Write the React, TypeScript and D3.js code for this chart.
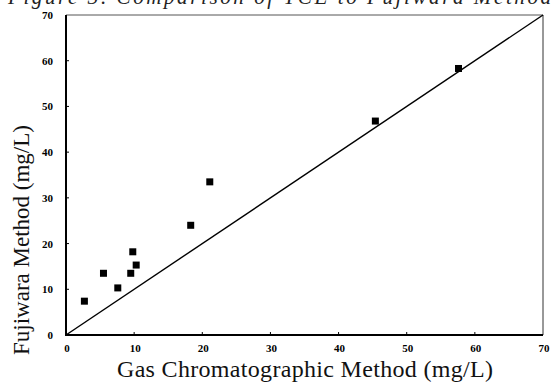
import React, { useEffect, useRef } from 'react';
import * as d3 from 'd3';

// Readings from the scanned figure (mg/L)
const gcValues = [2.7, 5.5, 7.6, 9.5, 9.8, 10.3, 18.3, 21.1, 45.4, 57.6];
const fujiwaraValues = [7.4, 13.5, 10.3, 13.5, 18.2, 15.3, 24.0, 33.5, 46.8, 58.3];
const tickValues = [0, 10, 20, 30, 40, 50, 60, 70];
const lineEnds = [0, 70];

const App: React.FC = () => {
  const svgRef = useRef<SVGSVGElement>(null);

  useEffect(() => {
    if (!svgRef.current) return;
    const svg = d3.select(svgRef.current);
    svg.selectAll('*').remove();

    const left = 66, right = 543, top = 15, bottom = 335;
    const x = d3.scaleLinear().domain([0, 70]).range([left, right]);
    const y = d3.scaleLinear().domain([0, 70]).range([bottom, top]);
    const serif = '"Liberation Serif", "DejaVu Serif", serif';

    // Caption, cut off at the top edge as in the scan
    svg.append('text')
      .attr('x', 8)
      .attr('y', 4)
      .attr('textLength', 543)
      .style('font-family', serif)
      .style('font-size', '21px')
      .style('font-style', 'italic')
      .style('fill', '#222')
      .text('Figure 3. Comparison of TCE to Fujiwara Method');

    // frame: top and right thin, left and bottom heavy
    svg.append('line')
      .attr('x1', left).attr('x2', right).attr('y1', top).attr('y2', top)
      .style('stroke', '#555').style('stroke-width', 1);
    svg.append('line')
      .attr('x1', right).attr('x2', right).attr('y1', top).attr('y2', bottom)
      .style('stroke', '#333').style('stroke-width', 1);
    svg.append('line')
      .attr('x1', left).attr('x2', left).attr('y1', top).attr('y2', bottom + 1)
      .style('stroke', '#000').style('stroke-width', 2);
    svg.append('line')
      .attr('x1', left - 1).attr('x2', right).attr('y1', bottom).attr('y2', bottom)
      .style('stroke', '#000').style('stroke-width', 2);

    // x ticks (inward) and labels
    svg.selectAll('.xtick')
      .data(tickValues.slice(1, -1))
      .enter()
      .append('line')
      .attr('x1', d => x(d)).attr('x2', d => x(d))
      .attr('y1', bottom).attr('y2', bottom - 3)
      .style('stroke', '#000').style('stroke-width', 1);
    svg.selectAll('.xlabel')
      .data(tickValues)
      .enter()
      .append('text')
      .attr('x', d => x(d) + 1)
      .attr('y', bottom + 17)
      .attr('text-anchor', 'middle')
      .style('font-family', serif)
      .style('font-size', '11px')
      .style('font-weight', 'bold')
      .text(d => d);

    // y ticks and labels
    svg.selectAll('.ytick')
      .data(tickValues.slice(1, -1))
      .enter()
      .append('line')
      .attr('x1', left).attr('x2', left + 3)
      .attr('y1', d => y(d)).attr('y2', d => y(d))
      .style('stroke', '#000').style('stroke-width', 1);
    svg.selectAll('.ylabel')
      .data(tickValues)
      .enter()
      .append('text')
      .attr('x', 53)
      .attr('y', d => y(d) + 4)
      .attr('text-anchor', 'end')
      .style('font-family', serif)
      .style('font-size', '11px')
      .style('font-weight', 'bold')
      .text(d => d);

    // 1:1 reference line
    svg.append('line')
      .attr('x1', x(lineEnds[0])).attr('y1', y(lineEnds[0]))
      .attr('x2', x(lineEnds[1])).attr('y2', y(lineEnds[1]))
      .style('stroke', '#000')
      .style('stroke-width', 1.4);

    // data markers
    const size = 7;
    svg.selectAll('.pt')
      .data(gcValues.map((g, i) => ({ g, f: fujiwaraValues[i] })))
      .enter()
      .append('rect')
      .attr('x', d => x(d.g) - size / 2)
      .attr('y', d => y(d.f) - size / 2)
      .attr('width', size)
      .attr('height', size)
      .style('fill', '#000');

    // axis titles
    svg.append('text')
      .attr('x', 305)
      .attr('y', 377)
      .attr('text-anchor', 'middle')
      .attr('textLength', 376)
      .style('font-family', serif)
      .style('font-size', '24px')
      .style('fill', '#111')
      .text('Gas Chromatographic Method (mg/L)');

    svg.append('text')
      .attr('transform', 'translate(29, 240) rotate(-90)')
      .attr('text-anchor', 'middle')
      .attr('textLength', 230)
      .style('font-family', serif)
      .style('font-size', '23px')
      .style('fill', '#111')
      .text('Fujiwara Method (mg/L)');
  }, []);

  return (
    <svg
      ref={svgRef}
      width={551}
      height={385}
      style={{ position: 'absolute', left: 0, top: 0, background: '#fff' }}
    />
  );
};

export default App;
